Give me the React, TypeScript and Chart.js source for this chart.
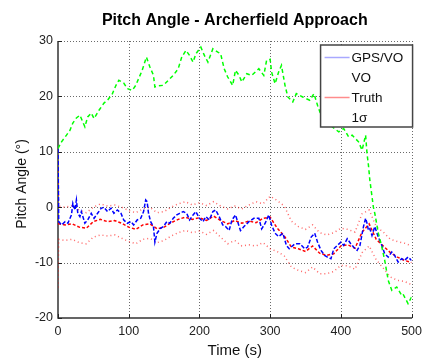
import React, { useEffect, useRef } from "react";
import { Chart, registerables } from "chart.js";

Chart.register(...registerables);

const TITLE = "Pitch Angle - Archerfield Approach";
const X_LABEL = "Time (s)";
const Y_LABEL = "Pitch Angle (°)";
const X_TICKS = [0, 100, 200, 300, 400, 500];
const Y_TICKS = [-20, -10, 0, 10, 20, 30];
const LEGEND_LABELS = ["GPS/VO", "VO", "Truth", "1σ"];

// VO (green)
const voTime = [0, 5, 12, 17, 21, 26, 31, 38, 42, 47, 51, 58, 65, 70, 77, 82, 86, 93, 98, 105, 110, 114, 119, 125, 130, 135, 137, 142, 149, 156, 163, 170, 175, 181, 186, 191, 195, 202, 207, 212, 219, 226, 230, 235, 240, 247, 251, 256, 260, 267, 274, 284, 291, 295, 300, 302, 307, 312, 316, 321, 325, 332, 337, 346, 356, 362, 367, 372, 380, 388, 397, 404, 411, 416, 425, 430, 435, 437, 439, 441, 446, 448, 453, 458, 462, 467, 472, 479, 486, 488, 495, 500];
const voPitch = [10.6, 11.8, 13, 13.9, 15.2, 16.1, 16.6, 14.5, 16.3, 17, 16, 17.5, 18.8, 19.3, 20.5, 22, 22.9, 22.4, 21.4, 21.1, 22, 23.2, 24.7, 27.1, 25.3, 23.8, 21.7, 21.9, 22, 22.9, 23.8, 25, 27.1, 28.3, 27.4, 26.2, 27.7, 28.9, 27.4, 26.2, 28.6, 28, 27.7, 25, 23.5, 22, 24.7, 23.8, 22.6, 24.1, 23.8, 25, 23.8, 26.5, 26.7, 24.4, 22.3, 24.4, 25.6, 22, 19.9, 19, 20.5, 19.9, 19.3, 20.5, 18.4, 16.6, 15.5, 14.5, 13.6, 14.2, 12.7, 13, 11.8, 10.3, 13, 9.7, 7.6, 4.9, 0, -1.1, -4.7, -7.2, -9.6, -13.2, -15, -14.4, -15.9, -15.7, -17.4, -16.2];

// GPS/VO (blue)
const gpsTime = [0, 1, 5, 10, 14, 19, 21, 24, 26, 28, 31, 33, 38, 42, 47, 51, 56, 61, 65, 70, 75, 79, 84, 89, 93, 98, 103, 107, 112, 117, 121, 124, 126, 128, 131, 135, 137, 140, 145, 149, 154, 158, 163, 168, 172, 177, 182, 186, 191, 195, 200, 205, 209, 214, 219, 223, 228, 233, 237, 242, 246, 251, 254, 258, 263, 270, 277, 284, 288, 293, 298, 302, 307, 312, 318, 323, 327, 335, 342, 349, 353, 358, 363, 367, 372, 377, 381, 386, 390, 395, 400, 404, 409, 414, 418, 423, 427, 432, 435, 437, 439, 441, 444, 448, 453, 458, 462, 467, 472, 476, 481, 486, 490, 495, 500];
const gpsPitch = [10.5, -2.6, -3.2, -2.6, -2.9, -1.4, 0.7, -0.5, 1.3, -1.1, -1.7, -0.8, -2.9, -2.3, -1.1, -2, -1.1, -0.2, 0, -0.8, -0.2, -1.1, -0.5, -1.1, -2.3, -2.9, -2.6, -3.2, -2.3, -2, -0.8, 1.3, 1, -1.1, -2.6, -3.5, -6.3, -4.7, -3.8, -3.5, -2.6, -2.9, -2, -1.4, -1.1, -0.8, -1.1, -2.3, -1.4, -0.8, -2, -2.6, -1.7, -2.3, -0.8, -0.5, -1.7, -3.2, -3.5, -4.2, -2.3, -1.4, -2.6, -4.2, -3.5, -2.6, -2, -2, -3.9, -2.9, -1.4, -3.2, -4.7, -5.3, -4.7, -6.9, -7.5, -6.6, -6.6, -7.5, -7.2, -5.4, -4.7, -6.3, -7.8, -8.7, -9, -9.3, -7.5, -6.9, -6.3, -6.9, -5.7, -6.6, -7.2, -7.8, -6.9, -3.5, -2, -2.9, -4.2, -3.9, -5.1, -3.5, -5.4, -6.9, -8.4, -9, -8.1, -8.7, -9.9, -9.3, -9.6, -9, -9.6];

// Truth and 1-sigma bounds (red)
const refTime = [0, 1, 10, 20, 30, 40, 50, 60, 70, 80, 90, 100, 110, 120, 130, 140, 150, 160, 170, 180, 190, 200, 210, 220, 230, 240, 250, 260, 270, 280, 290, 300, 310, 320, 330, 340, 350, 360, 370, 380, 390, 400, 410, 420, 430, 440, 450, 460, 470, 480, 490, 500];
const truthPitch = [-3, -3, -3.2, -3, -3.6, -3.8, -2.6, -2.2, -2.6, -2.4, -2.9, -3.6, -4, -3.2, -3, -3.9, -3.6, -2.8, -2.2, -1.8, -2.2, -1.9, -2.4, -1.6, -2.4, -3, -2.4, -2.9, -2.5, -2.8, -2, -1.8, -3.8, -5.2, -7.2, -7.5, -8, -7, -8.3, -8.7, -8.4, -7, -6.8, -7.4, -4.5, -3, -5.8, -7, -8.2, -9, -9.6, -10];
const sigmaUpper = [8, 0.2, 0, 0.3, -0.5, -1, 0, 0.6, 0.2, 0.4, 0, -0.6, -1, -0.3, 0, -1, -0.8, 0, 0.6, 1, 0.4, 0.8, 0.3, 1, 0.2, -0.3, 0.2, -0.3, 0.4, 1, 0.6, 2, 1.2, 0.2, -2.5, -3.5, -4, -3.2, -4.6, -5, -4.6, -3.8, -4, -4.5, -1.2, -0.5, -3.5, -4.5, -5.8, -6.2, -6.5, -7];
const sigmaLower = [-14.5, -5.8, -6, -5.8, -6.4, -6.6, -5.4, -5, -5.2, -5, -5.6, -6.2, -6.6, -5.8, -5.6, -6.4, -6, -5.2, -4.6, -4.2, -4.6, -4.3, -4.9, -4.2, -5.4, -6.6, -6, -7, -6.8, -7, -6.4, -7.5, -8, -8.8, -10.8, -11.4, -11.8, -10.8, -12, -12, -11.6, -10.5, -10.6, -11.2, -8.2, -7, -9.5, -11, -12.6, -13.2, -13.4, -14];

const FONT = "'Liberation Sans', Arial, Helvetica, sans-serif";

const pts = (xs: number[], ys: number[]) => xs.map((x, i) => ({ x, y: ys[i] }));

const decorPlugin = {
  id: "decor",
  beforeDatasetsDraw(chart: any) {
    const { ctx, chartArea: a, scales } = chart;
    const xs = scales.x;
    const ys = scales.y;
    ctx.save();
    // dotted grid
    ctx.strokeStyle = "#6a6a6a";
    ctx.lineWidth = 1;
    ctx.setLineDash([1, 2]);
    for (const v of X_TICKS) {
      if (v === X_TICKS[0]) continue;
      const px = Math.round(xs.getPixelForValue(v)) + 0.5;
      ctx.beginPath();
      ctx.moveTo(px, a.top);
      ctx.lineTo(px, a.bottom);
      ctx.stroke();
    }
    for (const v of Y_TICKS) {
      if (v === Y_TICKS[0]) continue;
      const py = Math.round(ys.getPixelForValue(v)) + 0.5;
      ctx.beginPath();
      ctx.moveTo(a.left, py);
      ctx.lineTo(a.right, py);
      ctx.stroke();
    }
    // axes
    ctx.setLineDash([]);
    ctx.strokeStyle = "#333";
    ctx.lineWidth = 1.5;
    ctx.beginPath();
    ctx.moveTo(a.left, a.top);
    ctx.lineTo(a.left, a.bottom);
    ctx.lineTo(a.right + 0.5, a.bottom);
    ctx.stroke();
    // inward ticks
    ctx.lineWidth = 1;
    ctx.strokeStyle = "#222";
    for (const v of Y_TICKS) {
      const py = Math.round(ys.getPixelForValue(v)) + 0.5;
      ctx.beginPath();
      ctx.moveTo(a.left, py);
      ctx.lineTo(a.left + 4, py);
      ctx.stroke();
    }
    for (const v of X_TICKS) {
      const px = Math.round(xs.getPixelForValue(v)) + 0.5;
      ctx.beginPath();
      ctx.moveTo(px, a.bottom);
      ctx.lineTo(px, a.bottom - 4);
      ctx.stroke();
    }
    ctx.restore();
  },
  afterDraw(chart: any) {
    const { ctx, chartArea: a } = chart;
    ctx.save();
    // title
    ctx.fillStyle = "#000";
    ctx.textAlign = "center";
    ctx.textBaseline = "middle";
    ctx.font = `bold 16px ${FONT}`;
    ctx.fillText(TITLE, (a.left + a.right) / 2, 21);
    // axis titles
    ctx.fillStyle = "#111";
    ctx.font = `15px ${FONT}`;
    ctx.fillText(X_LABEL, (a.left + a.right) / 2, 351);
    ctx.save();
    ctx.translate(22.5, 184);
    ctx.rotate(-Math.PI / 2);
    ctx.font = `14px ${FONT}`;
    ctx.fillText(Y_LABEL, 0, 0);
    ctx.restore();
    // legend
    const w = 92;
    const h = 82;
    const x0 = a.right + 1 - w;
    const y0 = a.top + 4;
    ctx.fillStyle = "#fff";
    ctx.fillRect(x0, y0, w, h);
    ctx.strokeStyle = "#444";
    ctx.lineWidth = 1.5;
    ctx.strokeRect(x0, y0, w, h);
    const lineColors = ["#a8a8ff", null, "#ff8c8c", null];
    ctx.font = `13.5px ${FONT}`;
    ctx.textAlign = "left";
    ctx.fillStyle = "#111";
    LEGEND_LABELS.forEach((lab, i) => {
      const cy = y0 + 12 + i * 20;
      const c = lineColors[i];
      if (c) {
        ctx.strokeStyle = c;
        ctx.lineWidth = 1.5;
        ctx.beginPath();
        ctx.moveTo(x0 + 4, cy + 0.5);
        ctx.lineTo(x0 + 29, cy + 0.5);
        ctx.stroke();
      }
      ctx.fillText(lab, x0 + 31, cy + 1);
    });
    ctx.restore();
  },
};

export default function App() {
  const ref = useRef<HTMLCanvasElement>(null);
  useEffect(() => {
    document.body.style.margin = "0";
    const chart = new Chart(ref.current as HTMLCanvasElement, {
      type: "line",
      data: {
        datasets: [
          {
            label: "VO",
            data: pts(voTime, voPitch),
            borderColor: "#00ff00",
            borderWidth: 1.5,
            borderDash: [4, 3],
            pointRadius: 0,
            order: 0,
          },
          {
            label: "GPS/VO",
            data: pts(gpsTime, gpsPitch),
            borderColor: "#0000ff",
            borderWidth: 1.5,
            borderDash: [4, 2],
            pointRadius: 0,
            order: 1,
          },
          {
            label: "Truth",
            data: pts(refTime, truthPitch),
            borderColor: "#ff0000",
            borderWidth: 1.5,
            borderDash: [3, 2],
            pointRadius: 0,
            order: 2,
          },
          {
            label: "1σ upper",
            data: pts(refTime, sigmaUpper),
            borderColor: "rgba(255,0,0,0.6)",
            borderWidth: 1.5,
            borderDash: [1, 3],
            pointRadius: 0,
            order: 3,
          },
          {
            label: "1σ lower",
            data: pts(refTime, sigmaLower),
            borderColor: "rgba(255,0,0,0.6)",
            borderWidth: 1.5,
            borderDash: [1, 3],
            pointRadius: 0,
            order: 3,
          },
        ],
      },
      options: {
        animation: false,
        responsive: false,
        devicePixelRatio: 1,
        layout: { padding: { top: 41, right: 11, left: 0, bottom: 0 } },
        plugins: {
          legend: { display: false },
          title: { display: false },
          tooltip: { enabled: false },
        },
        elements: { line: { tension: 0 } },
        scales: {
          x: {
            type: "linear",
            min: 0,
            max: 500,
            afterFit: (s: any) => {
              s.height = 43;
            },
            afterBuildTicks: (s: any) => {
              s.ticks = X_TICKS.map((v) => ({ value: v }));
            },
            ticks: {
              padding: 6,
              maxRotation: 0,
              color: "#222",
              font: { family: FONT, size: 12.5 },
            },
            grid: { display: false, drawTicks: false },
            border: { display: false },
          },
          y: {
            type: "linear",
            min: -20,
            max: 30,
            afterFit: (s: any) => {
              s.width = 58;
            },
            afterBuildTicks: (s: any) => {
              s.ticks = Y_TICKS.map((v) => ({ value: v }));
            },
            ticks: {
              padding: 5,
              color: "#222",
              font: { family: FONT, size: 12.5 },
            },
            grid: { display: false, drawTicks: false },
            border: { display: false },
          },
        },
      },
      plugins: [decorPlugin],
    } as any);
    return () => chart.destroy();
  }, []);
  return (
    <canvas
      ref={ref}
      width={428}
      height={361}
      style={{ display: "block", width: 428, height: 361 }}
    />
  );
}
